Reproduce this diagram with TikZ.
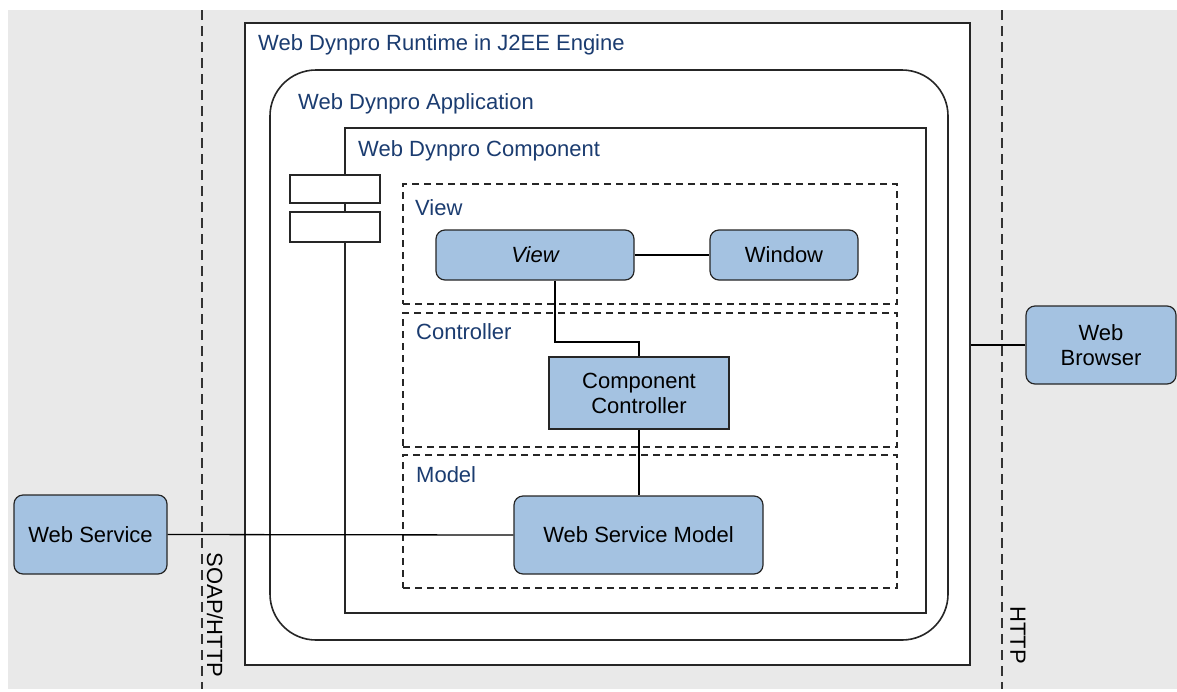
\documentclass[tikz,border=0pt]{standalone}
\usepackage{fontspec}
\setmainfont{Liberation Sans}
\definecolor{bggray}{HTML}{E9E9E9}
\definecolor{nodeblue}{HTML}{A4C2E1}
\definecolor{lblblue}{HTML}{1B3C70}
\begin{document}
\begin{tikzpicture}[x=1pt,y=-1pt,
  every node/.style={font=\fontsize{22}{25}\selectfont},
  lbl/.style={anchor=west, text=lblblue, inner sep=0pt},
  bluebox/.style={draw=black!85, fill=nodeblue, line width=1.2pt, rounded corners=9pt, align=center, inner sep=0pt},
  sqbox/.style={bluebox, rounded corners=0pt},
  frame/.style={draw=black!85, line width=1.6pt, inner sep=0pt, fill=white},
  region/.style={draw=black!85, line width=1.4pt, dash pattern=on 7pt off 5pt, inner sep=0pt},
  wire/.style={draw=black, line width=1.3pt},
  sepline/.style={draw=black!80, line width=1.4pt, dash pattern=on 10pt off 6pt},
  vlabel/.style={rotate=-90, inner sep=0pt, font=\fontsize{22}{25}\selectfont}
]
\useasboundingbox (0,0) rectangle (1177,691);
\fill[white] (0,0) rectangle (1177,691);
\fill[bggray] (8,10) rectangle (1177,689);

% separators
\coordinate (s1t) at (202,10);
\coordinate (s1b) at (202,689);
\coordinate (s2t) at (1002,10);
\coordinate (s2b) at (1002,689);
\draw[sepline] (s1t) -- (s1b);
\draw[sepline] (s2t) -- (s2b);
\node[vlabel] (soap) at (215,615) {SOAP/HTTP};
\node[vlabel] (http) at (1018,635) {HTTP};

% frames
\node[frame, minimum width=725pt, minimum height=642pt] (engine) at (607.5,344) {};
\node[lbl] (engineL) at (258,45) {Web Dynpro Runtime in J2EE Engine};
\node[frame, rounded corners=46pt, minimum width=678pt, minimum height=570pt] (app) at (609,355) {};
\node[lbl] (appL) at (298,104) {Web Dynpro Application};
\node[frame, minimum width=581pt, minimum height=485pt] (comp) at (635.5,370.5) {};
\node[lbl] (compL) at (358,151) {Web Dynpro Component};
\node[frame, minimum width=90pt, minimum height=28pt] (port1) at (335,189) {};
\node[frame, minimum width=90pt, minimum height=30pt] (port2) at (335,227) {};

% regions
\node[region, minimum width=494pt, minimum height=120pt] (rview) at (650,244) {};
\node[lbl] (rviewL) at (415,208) {View};
\node[region, minimum width=494pt, minimum height=134pt] (rctrl) at (650,380) {};
\node[lbl] (rctrlL) at (416,332) {Controller};
\node[region, minimum width=494pt, minimum height=133pt] (rmodel) at (650,521.5) {};
\node[lbl] (rmodelL) at (416,475) {Model};

% nodes
\node[bluebox, minimum width=198pt, minimum height=50pt] (view) at (535,255) {\itshape View};
\node[bluebox, minimum width=148pt, minimum height=50pt] (window) at (784,255) {Window};
\node[sqbox, minimum width=180pt, minimum height=72pt] (cc) at (639,393) {Component\\Controller};
\node[bluebox, minimum width=249pt, minimum height=78pt] (wsm) at (638.5,535) {Web Service Model};
\node[bluebox, minimum width=153pt, minimum height=79pt] (ws) at (90.5,534.5) {Web Service};
\node[bluebox, minimum width=150pt, minimum height=78pt] (wb) at (1101,345) {Web\\Browser};

% connectors
\coordinate (k1) at (555,342);
\draw[wire] (view) -- (window);
\draw[wire] ([xshift=20pt]view.south) -- (k1) -| (cc.north);
\draw[wire] (cc.south) -- (wsm.north -| cc.south);
\draw[wire] (ws.east) -- (wsm.west);
\draw[wire] (wb.west) -- (wb.west -| engine.east);
\end{tikzpicture}
\end{document}
